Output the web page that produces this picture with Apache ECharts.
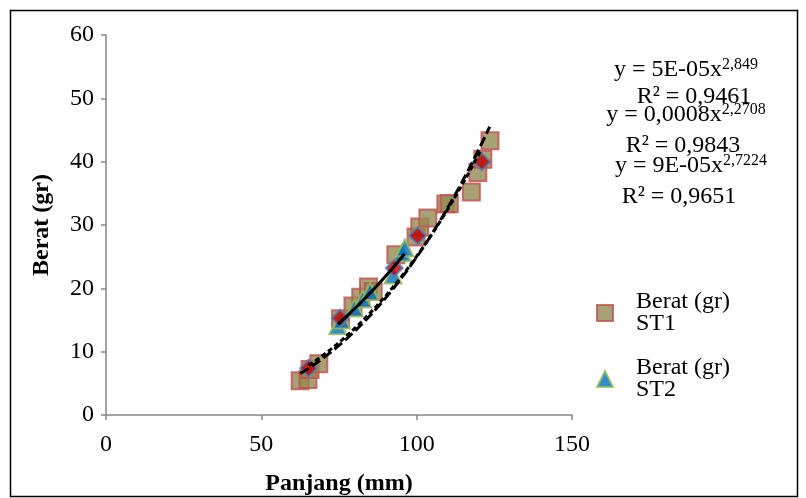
<!DOCTYPE html>
<html lang="en">
<head>
    <meta charset="UTF-8">
    <title>Panjang - Berat</title>
    <style>
        *{
            margin: 0;
            padding: 0;
        }
        body{
            background: #FFFFFF;
        }
        #chart{
            width: 806px;
            height: 498px;
        }
    </style>
</head>
<body>
<div id="chart"></div>
<script src="https://cdn.jsdelivr.net/npm/echarts@6/dist/echarts.min.js"></script>
<script>
    // titik data [panjang mm, berat gr]
    let st1 = [
        [62.5, 5.4], [65, 5.6], [65.7, 7.2], [68.5, 8.1], [75.5, 15.2],
        [79.5, 17.2], [82, 18.6], [84.5, 20.2], [86, 19.5], [93.3, 25.3],
        [99.8, 28.1], [101, 29.7], [103.6, 31.1], [109.4, 33.3], [110.5, 33.4],
        [117.6, 35.2], [119.7, 38.3], [121.3, 40.4], [123.6, 43.3]
    ];
    let st2 = [
        [74.6, 14.1], [75.8, 15], [80, 16.9], [82.7, 18.3], [85, 19.5],
        [92.4, 22.1], [95.3, 25.6], [96.2, 26.4]
    ];
    let st3 = [
        [65.2, 7.4], [75.4, 15.3], [92.8, 23.2], [100.3, 28.3], [121, 40]
    ];

    // garis tren pangkat y = a x^b (dari persamaan pada grafik)
    let fitA = [5e-5, 0.0008, 9e-5];
    let fitB = [2.849, 2.2708, 2.7224];
    let fitFrom = [62.5, 74.6, 65.2];
    let fitTo = [123.6, 96.2, 121];

    let eqText = [
        '{n|y = 5E-05x}{s|2,849}',
        '{n|R² = 0,9461}',
        '{n|y = 0,0008x}{s|2,2708}',
        '{n|R² = 0,9843}',
        '{n|y = 9E-05x}{s|2,7224}',
        '{n|R² = 0,9651}'
    ];

    let xTicks = [0, 50, 100, 150];
    let yTicks = [0, 10, 20, 30, 40, 50, 60];

    function trend(k){
        let pts = [];
        for(let x = fitFrom[k]; x <= fitTo[k] + 0.001; x += 0.5){
            pts.push([x, fitA[k] * Math.pow(x, fitB[k])]);
        }
        return pts;
    }

    let font = 'Liberation Serif';
    let eqX = [686, 694, 686, 683, 691, 679];
    let eqY = [70, 97, 115, 146, 166, 197];

    let graphics = [{
        type: 'rect',
        shape: {x: 10.5, y: 10.5, width: 787, height: 486},
        style: {fill: 'none', stroke: '#000000', lineWidth: 1.5},
        silent: true
    }];
    for(let i = 0; i < eqText.length; i++){
        graphics.push({
            type: 'text',
            x: eqX[i],
            y: eqY[i],
            z: 10,
            style: {
                text: eqText[i],
                align: 'center',
                verticalAlign: 'middle',
                rich: {
                    n: {fontFamily: font, fontSize: 24, color: '#000000', lineHeight: 26},
                    s: {fontFamily: font, fontSize: 16, color: '#000000', verticalAlign: 'top', lineHeight: 26}
                }
            }
        });
    }

    let legendText = {
        fontFamily: font,
        fontSize: 24,
        lineHeight: 22,
        color: '#000000',
        padding: [22, 0, 0, 18]
    };

    let myChart = echarts.init(document.getElementById('chart'));
    myChart.setOption({
        animation: false,
        backgroundColor: '#FFFFFF',
        grid: {left: 106, right: 234, top: 35, bottom: 83, containLabel: false, outerBoundsMode: 'none'},
        legend: [{
            data: ['ST1'],
            left: 596,
            top: 280,
            padding: 0,
            itemWidth: 16,
            itemHeight: 16,
            formatter: 'Berat (gr)\n{name}',
            textStyle: legendText
        }, {
            data: ['ST2'],
            left: 596,
            top: 346,
            padding: 0,
            itemWidth: 16,
            itemHeight: 16,
            formatter: 'Berat (gr)\n{name}',
            textStyle: legendText
        }],
        xAxis: {
            type: 'value',
            min: xTicks[0],
            max: xTicks[xTicks.length - 1],
            interval: 50,
            name: 'Panjang (mm)',
            nameLocation: 'middle',
            nameGap: 57,
            nameTextStyle: {fontFamily: font, fontSize: 24, fontWeight: 'bold', color: '#000000'},
            axisLine: {onZero: false, lineStyle: {color: '#868686', width: 1.5}},
            axisTick: {show: true, length: 5, lineStyle: {color: '#868686', width: 1.5}},
            axisLabel: {fontFamily: font, fontSize: 24, color: '#000000', margin: 18},
            splitLine: {show: false}
        },
        yAxis: {
            type: 'value',
            min: yTicks[0],
            max: yTicks[yTicks.length - 1],
            interval: 10,
            name: 'Berat (gr)',
            nameLocation: 'middle',
            nameGap: 52,
            nameTextStyle: {fontFamily: font, fontSize: 24, fontWeight: 'bold', color: '#000000'},
            axisLine: {show: true, onZero: false, lineStyle: {color: '#868686', width: 1.5}},
            axisTick: {show: true, length: 5, lineStyle: {color: '#868686', width: 1.5}},
            axisLabel: {fontFamily: font, fontSize: 24, color: '#000000', margin: 12},
            splitLine: {show: false}
        },
        series: [{
            name: 'ST1',
            type: 'scatter',
            symbol: 'rect',
            symbolSize: 17,
            data: st1,
            itemStyle: {color: '#948A54', borderColor: '#C0504D', borderWidth: 2}
        }, {
            name: 'ST2',
            type: 'scatter',
            symbol: 'triangle',
            symbolSize: 17,
            data: st2,
            itemStyle: {color: '#0070C0', borderColor: '#9BBB59', borderWidth: 2}
        }, {
            name: 'ST3',
            type: 'scatter',
            symbol: 'diamond',
            symbolSize: 17,
            data: st3,
            itemStyle: {color: '#C00000', borderColor: '#4F81BD', borderWidth: 2}
        }, {
            name: 'Power (ST1)',
            type: 'line',
            showSymbol: false,
            data: trend(0),
            lineStyle: {color: '#000000', width: 3, type: [10, 4]}
        }, {
            name: 'Power (ST2)',
            type: 'line',
            showSymbol: false,
            data: trend(1),
            lineStyle: {color: '#000000', width: 3, type: 'solid'}
        }, {
            name: 'Power (ST3)',
            type: 'line',
            showSymbol: false,
            data: trend(2),
            lineStyle: {color: '#000000', width: 3, type: [5, 3]}
        }],
        graphic: graphics
    });
</script>
</body>
</html>
